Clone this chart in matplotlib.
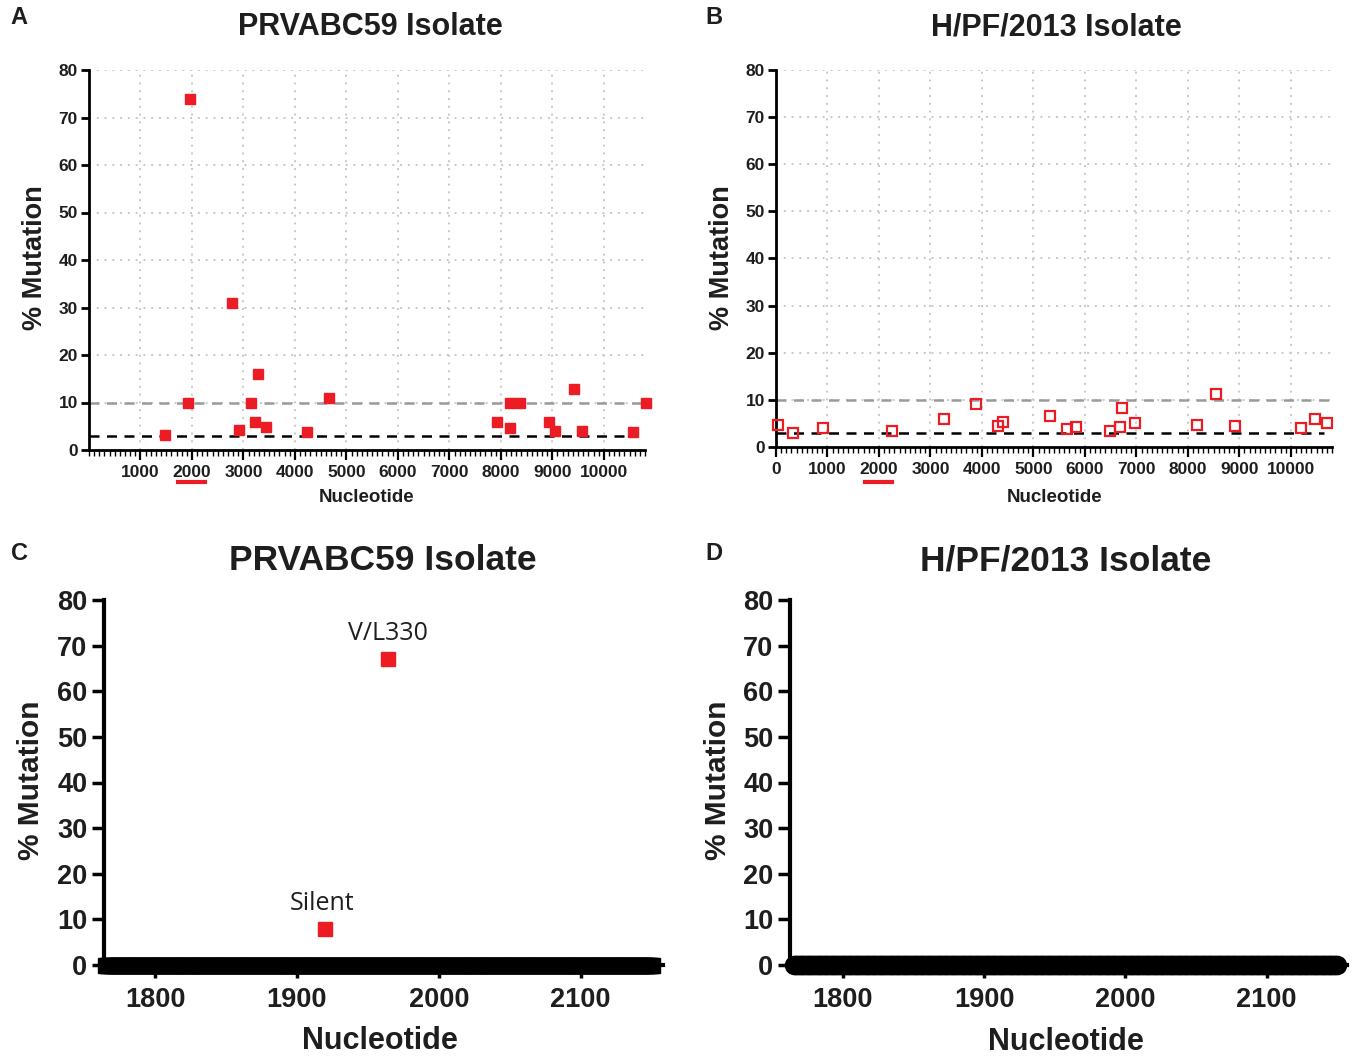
import numpy as np
import matplotlib
matplotlib.use("Agg")
from matplotlib import pyplot as plt
from matplotlib.ticker import MultipleLocator, FixedLocator
import matplotlib.transforms as mtransforms

plt.rcParams['font.family'] = ['Liberation Sans', 'DejaVu Sans']
plt.rcParams['font.weight'] = 'bold'

# ---- data ----
# A: PRVABC59, whole genome
a_nt = [1470, 1918, 1962, 2771, 2916, 3147, 3227, 3278, 3444, 4232, 4659,
        7927, 8173, 8187, 8375, 8939, 9048, 9424, 9568, 10573, 10812]
a_mut = [3.2, 10.0, 74.0, 30.9, 4.2, 10.0, 5.9, 15.9, 4.8, 3.8, 10.9,
         5.9, 10.0, 4.6, 10.0, 5.9, 4.0, 12.9, 4.0, 3.8, 10.0]

# B: H/PF/2013, whole genome
b_nt = [37, 329, 906, 2257, 3272, 3893, 4310, 4412, 5325, 5661, 5829,
        6479, 6676, 6713, 6983, 8181, 8546, 8919, 10190, 10468, 10701]
b_mut = [4.7, 3.0, 4.0, 3.3, 5.9, 9.2, 4.5, 5.4, 6.6, 3.9, 4.3,
         3.5, 4.2, 8.3, 5.1, 4.6, 11.3, 4.5, 4.0, 5.9, 5.0]

# C: PRVABC59, zoomed region
c_nt = [1920, 1964]
c_mut = [7.9, 67.1]
c_labels = ['Silent', 'V/L330']

# positions in the zoomed region with no mutation (0 %)
zoom_start, zoom_end = 1765, 2151
zero_nt = np.arange(zoom_start, zoom_end)
zero_mut = np.zeros(len(zero_nt))

cutoff_grey = 10
cutoff_black = 3
zoom_mark = (1730, 2245)

genome_ticks_a = [1000, 2000, 3000, 4000, 5000, 6000, 7000, 8000, 9000, 10000]
genome_ticks_b = [0] + genome_ticks_a
zoom_ticks = [1800, 1900, 2000, 2100]
y_ticks = [0, 10, 20, 30, 40, 50, 60, 70, 80]

RED = '#ec1c24'
TXT = '#1e1e1e'
W, H = 1360, 1057


def rect(left, right, top, bottom):
    return [left / W, 1 - bottom / H, (right - left) / W, (bottom - top) / H]


def ftext(x, y, s, **kw):
    fig.text(x / W, 1 - y / H, s, color=TXT, ha='center', va='center', **kw)


def genome_axes(ax, xs, ys, ticks, filled):
    ax.set_xlim(0, 10800)
    ax.set_ylim(0, 80)
    for s in ['top', 'right']:
        ax.spines[s].set_visible(False)
    for s in ['left', 'bottom']:
        ax.spines[s].set_linewidth(2)
        ax.spines[s].set_color('black')
    ax.xaxis.set_major_locator(FixedLocator(ticks))
    ax.xaxis.set_minor_locator(MultipleLocator(100))
    ax.set_yticks(y_ticks)
    ax.tick_params(axis='x', which='major', length=7, width=1.6, labelsize=12.5,
                   pad=4, labelcolor=TXT)
    ax.tick_params(axis='x', which='minor', length=4, width=1.0)
    ax.tick_params(axis='y', length=6, width=2, labelsize=12.5, pad=2,
                   labelcolor=TXT)
    for g in genome_ticks_a:
        ax.axvline(g, color='#c8c8c8', lw=1.4, ls=(0, (1, 3)), zorder=0)
    for g in y_ticks[1:]:
        ax.axhline(g, color='#c8c8c8', lw=1.4, ls=(0, (1, 3)), zorder=0)
    ax.axhline(cutoff_grey, color='#9a9a9a', lw=1.8, ls=(0, (4, 3)), zorder=1)
    ax.axhline(cutoff_black, xmax=0.985, color='black', lw=1.8, ls=(0, (4, 3)), zorder=1)
    if filled:
        ax.plot(xs, ys, 's', ms=6.5, color=RED, mec=RED, clip_on=False, zorder=3)
    else:
        ax.plot(xs, ys, 's', ms=7, mfc='none', mec=RED, mew=1.6, clip_on=False, zorder=3)


def zoom_axes(ax, xlim, zero_marker, zero_ms):
    ax.set_xlim(*xlim)
    ax.set_ylim(0, 80)
    for s in ['top', 'right']:
        ax.spines[s].set_visible(False)
    for s in ['left', 'bottom']:
        ax.spines[s].set_linewidth(3)
        ax.spines[s].set_color('black')
    ax.set_xticks(zoom_ticks)
    ax.set_yticks(y_ticks)
    ax.tick_params(axis='x', length=9, width=2.5, labelsize=19.5, pad=7,
                   labelcolor=TXT)
    ax.tick_params(axis='y', length=9, width=2.5, labelsize=19.5, pad=3,
                   labelcolor=TXT)
    ax.plot(zero_nt, zero_mut, zero_marker, ms=zero_ms, color='black',
            mec='black', clip_on=False, zorder=4)


fig = plt.figure(figsize=(13.6, 10.57), dpi=100)

axA = fig.add_axes(rect(89, 645, 70, 450))
genome_axes(axA, a_nt, a_mut, genome_ticks_a, True)
axB = fig.add_axes(rect(776, 1332, 70, 447))
genome_axes(axB, b_nt, b_mut, genome_ticks_b, False)

# red bar under "2000" marking the zoomed region
for ax, yoff in [(axA, -0.084), (axB, -0.093)]:
    tr = mtransforms.blended_transform_factory(ax.transData, ax.transAxes)
    ax.plot(zoom_mark, [yoff, yoff], color=RED, lw=3, transform=tr, clip_on=False)

axC = fig.add_axes(rect(104, 663, 600, 965))
zoom_axes(axC, (1764, 2158), 's', 10.8)
axC.plot(c_nt, c_mut, 's', ms=10.6, color=RED, clip_on=False, zorder=5)
for x, y, lab in zip(c_nt, c_mut, c_labels):
    axC.annotate(lab, (x, y), xytext=(-2 if lab == 'Silent' else 0, 9),
                 textcoords='offset points', ha='center', va='bottom',
                 fontsize=18, fontweight='normal', family='Open Sans', color=TXT)

axD = fig.add_axes(rect(790, 1347, 600, 965))
zoom_axes(axD, (1762.5, 2157), 'o', 13)

# titles, panel letters and axis labels
ftext(370, 27, 'PRVABC59 Isolate', fontsize=22, fontweight='bold')
ftext(1056, 27, 'H/PF/2013 Isolate', fontsize=22, fontweight='bold')
ftext(383, 560, 'PRVABC59 Isolate', fontsize=25.5, fontweight='bold')
ftext(1066, 561, 'H/PF/2013 Isolate', fontsize=25.5, fontweight='bold')

ftext(19, 18, 'A', fontsize=17, fontweight='bold')
ftext(714, 18, 'B', fontsize=17, fontweight='bold')
ftext(19, 553, 'C', fontsize=17, fontweight='bold')
ftext(714, 553, 'D', fontsize=17, fontweight='bold')

ftext(367, 497, 'Nucleotide', fontsize=13.5, fontweight='bold')
ftext(1055, 497, 'Nucleotide', fontsize=13.5, fontweight='bold')
ftext(380, 1041, 'Nucleotide', fontsize=22, fontweight='bold')
ftext(1066, 1042, 'Nucleotide', fontsize=22, fontweight='bold')

ftext(35, 258, '% Mutation', fontsize=19.5, fontweight='bold', rotation=90)
ftext(722, 258, '% Mutation', fontsize=19.5, fontweight='bold', rotation=90)
ftext(31, 780, '% Mutation', fontsize=21.5, fontweight='bold', rotation=90)
ftext(718, 780, '% Mutation', fontsize=21.5, fontweight='bold', rotation=90)

fig.savefig('out.png', dpi=100)
